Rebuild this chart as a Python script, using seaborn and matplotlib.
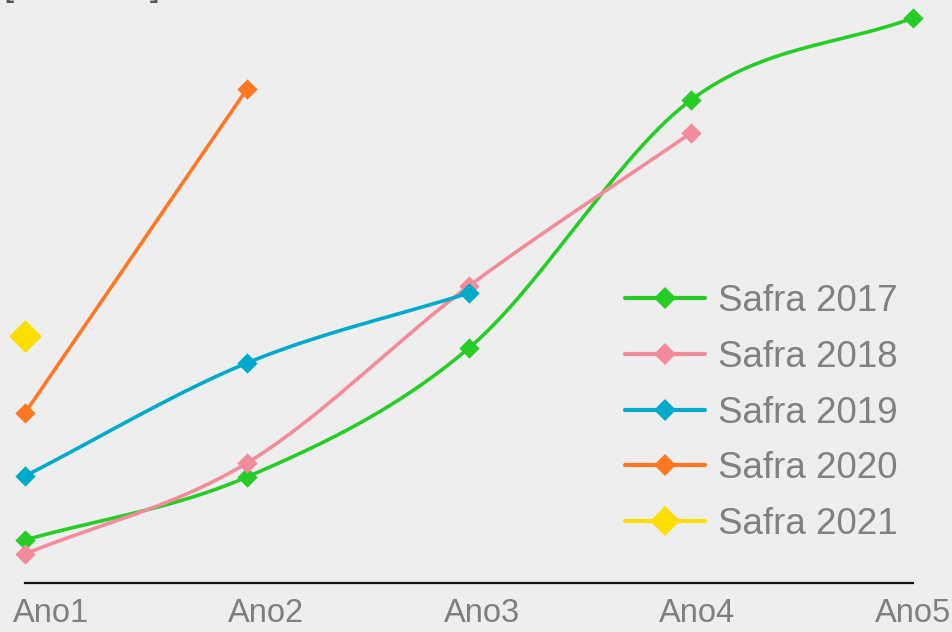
import numpy as np
import pandas as pd
import matplotlib
matplotlib.use("Agg")
import matplotlib.pyplot as plt
from matplotlib.lines import Line2D
import seaborn as sns

# --- data -------------------------------------------------------------
anos = ["Ano1", "Ano2", "Ano3", "Ano4", "Ano5"]
safras = ["Safra 2017", "Safra 2018", "Safra 2019", "Safra 2020", "Safra 2021"]
safra_2017 = [4.3, 10.6, 23.5, 48.3, 56.5]
safra_2018 = [2.9, 12.0, 29.7, 45.0]
safra_2019 = [10.7, 22.0, 29.0]
safra_2020 = [17.0, 49.4]
safra_2021 = [24.7]
series = [safra_2017, safra_2018, safra_2019, safra_2020, safra_2021]

cores = ["#27cc27", "#f28c9b", "#00aacb", "#fe7722", "#fcde00"]
marker_sizes = [9.0, 9.0, 9.0, 9.0, 14.5]
legend_marker_sizes = [11.0, 11.0, 11.0, 11.0, 15.5]

# --- long-form tables ---------------------------------------------------
pontos = pd.DataFrame(
    [(s, i, v) for s, vals in zip(safras, series) for i, v in enumerate(vals)],
    columns=["safra", "pos", "valor"],
)


def spline(xs, ys, k=60):
    """Cubic Hermite curve through the points (Catmull-Rom tangents)."""
    xs = np.asarray(xs, float)
    ys = np.asarray(ys, float)
    if len(xs) < 3:
        return xs, ys
    m = np.gradient(ys, xs)
    out_x, out_y = [], []
    for i in range(len(xs) - 1):
        h = xs[i + 1] - xs[i]
        t = np.linspace(0, 1, k, endpoint=(i == len(xs) - 2))
        h00 = 2 * t**3 - 3 * t**2 + 1
        h10 = t**3 - 2 * t**2 + t
        h01 = -2 * t**3 + 3 * t**2
        h11 = t**3 - t**2
        out_x.append(xs[i] + t * h)
        out_y.append(h00 * ys[i] + h10 * h * m[i] + h01 * ys[i + 1] + h11 * h * m[i + 1])
    return np.concatenate(out_x), np.concatenate(out_y)


curvas = []
for s, vals in zip(safras, series):
    if len(vals) < 2:
        continue
    cx, cy = spline(np.arange(len(vals)), vals)
    curvas.append(pd.DataFrame({"safra": s, "x": cx, "y": cy}))
curvas = pd.concat(curvas, ignore_index=True)

# --- figure -----------------------------------------------------------
sns.set_theme(style="white")
plt.rcParams["font.family"] = ["Liberation Sans", "DejaVu Sans"]

W, H = 953, 632
fig = plt.figure(figsize=(W / 100, H / 100), dpi=100, facecolor="#eeeeee")
ax = fig.add_axes([25 / W, 1 - 583 / H, 888 / W, 583 / H])
ax.set_facecolor("#eeeeee")

palette = dict(zip(safras, cores))
sns.lineplot(data=curvas, x="x", y="y", hue="safra", palette=palette,
             sort=False, estimator=None, linewidth=2.6, legend=False, ax=ax)
for ln in ax.lines:
    ln.set_clip_on(False)

for s, c, ms in zip(safras, cores, marker_sizes):
    sub = pontos[pontos["safra"] == s]
    sns.scatterplot(data=sub, x="pos", y="valor", color=c, marker="D",
                    s=(ms * 1.15) ** 2, linewidth=0, legend=False, ax=ax,
                    zorder=3, clip_on=False)

ax.set_xlim(0, 4)
ax.set_ylim(0, 58.3)
ax.set_xlabel("")
ax.set_ylabel("")
ax.set_yticks([])

# category labels
label_pos = np.linspace(0.117, 4.0, len(anos))
ax.set_xticks(label_pos)
ax.set_xticklabels(anos, fontsize=23.5, color="#7f7f7f")
ax.tick_params(axis="x", length=0, pad=11)

for side in ["top", "right", "left"]:
    ax.spines[side].set_visible(False)
ax.spines["bottom"].set_color("#111111")
ax.spines["bottom"].set_linewidth(1.6)

# legend
handles = [Line2D([0], [0], color=c, linewidth=3, marker="D", markersize=ms,
                  markeredgewidth=0)
           for c, ms in zip(cores, legend_marker_sizes)]
leg = fig.legend(handles, safras, loc="center left",
                 bbox_to_anchor=(625 / W, 1 - 413 / H), bbox_transform=fig.transFigure,
                 frameon=False, fontsize=26.5, handlelength=2.17, handletextpad=0.35,
                 labelspacing=0.56, borderpad=0, borderaxespad=0)
for t in leg.get_texts():
    t.set_color("#808080")

# brackets of the heading above the plot
fig.text(3 / W, 1 + 5 / H, "[", fontsize=26, color="#555555", va="baseline", ha="left")
fig.text(150 / W, 1 + 5 / H, "]", fontsize=26, color="#555555", va="baseline", ha="left")

fig.savefig("out.png", dpi=100, facecolor=fig.get_facecolor())
